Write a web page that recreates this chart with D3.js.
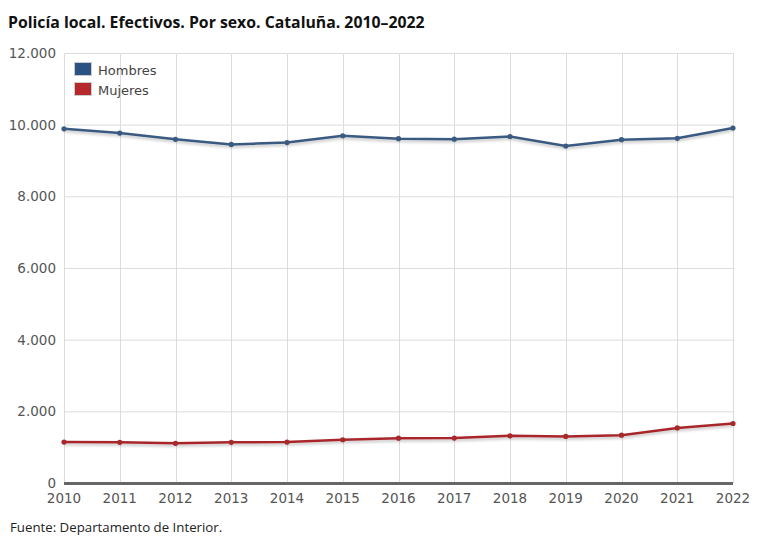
<!DOCTYPE html>
<html><head><meta charset="utf-8">
<script src="https://cdn.jsdelivr.net/npm/d3@7"></script>
<style>body{margin:0;background:#fff;} svg{display:block;}</style>
</head><body>
<svg id="c" width="770" height="558"></svg>
<script>
const years = [2010,2011,2012,2013,2014,2015,2016,2017,2018,2019,2020,2021,2022];
const hombres = [9885,9765,9590,9450,9500,9690,9610,9595,9670,9405,9580,9620,9905];
const mujeres = [1143,1134,1107,1134,1143,1207,1250,1254,1317,1300,1336,1538,1660];
const yTicks = [0,2000,4000,6000,8000,10000,12000];
const seriesNames = ["Hombres","Mujeres"];
const lineColors = ["#3a5a82","#a8282c"];
const swatchColors = ["#2c5282","#b5282e"];
const title = "Policía local. Efectivos. Por sexo. Cataluña. 2010–2022";
const source = "Fuente: Departamento de Interior.";

const svg = d3.select("#c");
const L=64,R=733,T=53,B=483;
const x = d3.scaleLinear().domain([2010,2022]).range([L,R]);
const y = d3.scaleLinear().domain([0,12000]).range([B,T]);
const fmt = d => d3.format(",")(d).replace(/,/g,".");

const defs = svg.append("defs");
const f = defs.append("filter").attr("id","sh").attr("x","-5%").attr("y","-50%").attr("width","110%").attr("height","300%");
f.append("feGaussianBlur").attr("in","SourceAlpha").attr("stdDeviation",1.5).attr("result","b");
f.append("feOffset").attr("dy",2).attr("result","o");
f.append("feComponentTransfer").append("feFuncA").attr("type","linear").attr("slope",0.25);
const m = f.append("feMerge"); m.append("feMergeNode"); m.append("feMergeNode").attr("in","SourceGraphic");

svg.append("text").attr("x",8).attr("y",28).text(title)
  .attr("font-family","Open Sans").attr("font-weight","bold").attr("font-size",15.8).attr("fill","#111");

// grid
svg.append("g").selectAll("line").data(yTicks.filter(d=>d>0)).join("line")
  .attr("x1",L).attr("x2",R).attr("y1",d=>y(d)+0.5).attr("y2",d=>y(d)+0.5).attr("stroke","#dcdcdc");
svg.append("g").selectAll("line").data(years).join("line")
  .attr("x1",d=>Math.round(x(d))+0.5).attr("x2",d=>Math.round(x(d))+0.5).attr("y1",T).attr("y2",B).attr("stroke","#dcdcdc");

// y labels
svg.append("g").selectAll("text").data(yTicks).join("text")
  .attr("x",56).attr("y",d=>y(d)+5).attr("text-anchor","end").text(fmt)
  .attr("font-family","DejaVu Sans").attr("font-size",13.5).attr("fill","#555");
// x labels
svg.append("g").selectAll("text").data(years).join("text")
  .attr("x",d=>x(d)).attr("y",503).attr("text-anchor","middle").text(d=>d)
  .attr("font-family","DejaVu Sans").attr("font-size",13.5).attr("fill","#555");

// axis line
svg.append("line").attr("x1",L).attr("x2",R).attr("y1",B+0.5).attr("y2",B+0.5).attr("stroke","#666").attr("stroke-width",3);

const line = d3.line().x((d,i)=>x(years[i])).y(d=>y(d));
[hombres,mujeres].forEach((s,k)=>{
  svg.append("path").datum(s).attr("d",line).attr("fill","none").attr("stroke",lineColors[k])
    .attr("stroke-width",2.5).attr("filter","url(#sh)");
  svg.append("g").selectAll("circle").data(s).join("circle")
    .attr("cx",(d,i)=>x(years[i])).attr("cy",d=>y(d)).attr("r",2.6).attr("fill",lineColors[k]);
});

// legend
const lg = svg.append("g");
seriesNames.forEach((n,k)=>{
  lg.append("rect").attr("x",74.5).attr("y",62.5+k*20).attr("width",17).attr("height",13)
    .attr("fill",swatchColors[k]).attr("stroke","#ccc");
  lg.append("text").attr("x",98).attr("y",75+k*20).text(n)
    .attr("font-family","DejaVu Sans").attr("font-size",13).attr("fill","#444");
});

svg.append("text").attr("x",10).attr("y",532).text(source)
  .attr("font-family","Open Sans").attr("font-size",13.25).attr("fill","#222");
</script>
</body></html>
